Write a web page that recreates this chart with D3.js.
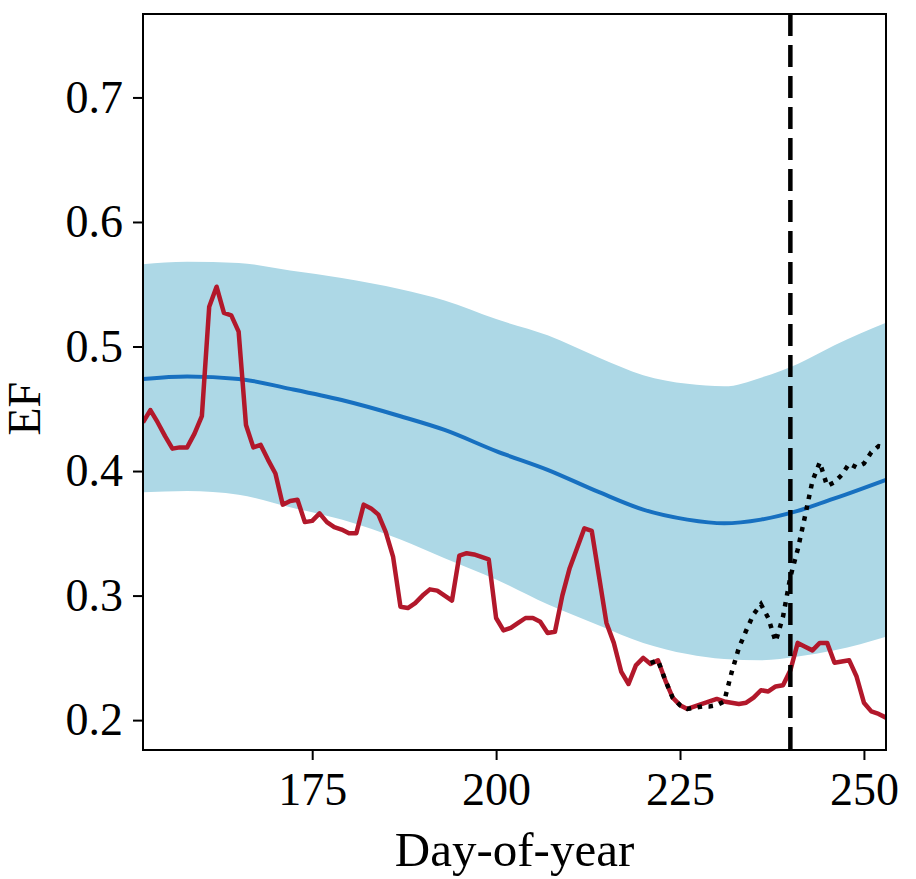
<!DOCTYPE html>
<html>
<head>
<meta charset="utf-8">
<script src="https://cdn.jsdelivr.net/npm/d3@7"></script>
<style>
  body { margin: 0; background: #fff; }
  svg text { font-family: "Liberation Serif", "DejaVu Serif", serif; }
</style>
</head>
<body>
<svg id="chart" width="916" height="879"></svg>
<script>
// observed EF, daily
var obsDays = [152,153,154,155,156,157,158,159,160,161,162,163,164,165,166,167,168,169,170,
  171,172,173,174,175,176,177,178,179,180,181,182,183,184,185,186,187,188,189,190,
  191,192,193,194,195,196,197,198,199,200,201,202,203,204,205,206,207,208,209,210,
  211,212,213,214,215,216,217,218,219,220,221,222,223,224,225,226,227,228,229,230,
  231,232,233,234,235,236,237,238,239,240,241,242,243,244,245,246,247,248,249,250,
  251,252,253];
var obsEF = [0.439,0.449,0.439,0.428,0.418,0.419,0.419,0.430,0.444,0.532,0.548,0.527,0.525,0.512,0.437,0.419,0.421,0.409,0.398,
  0.373,0.376,0.377,0.359,0.360,0.366,0.359,0.355,0.353,0.350,0.350,0.373,0.370,0.365,0.351,0.331,0.291,0.290,0.294,0.300,
  0.305,0.304,0.300,0.296,0.332,0.334,0.333,0.331,0.329,0.282,0.272,0.274,0.278,0.282,0.282,0.279,0.270,0.271,0.300,0.322,
  0.338,0.354,0.352,0.315,0.278,0.262,0.239,0.229,0.244,0.250,0.245,0.248,0.232,0.218,0.212,0.209,0.211,0.213,0.215,0.217,
  0.215,0.214,0.213,0.214,0.218,0.224,0.223,0.227,0.228,0.240,0.262,0.259,0.256,0.262,0.262,0.246,0.247,0.248,0.235,0.214,
  0.207,0.205,0.202];

// alternative run (dotted)
var altDays = [221,222,223,224,225,226,227,228,229,230,231,232,233,234,235,236,237,238,239,240,
  241,242,243,244,245,246,247,248,249,250,251,252,253];
var altEF = [0.246,0.248,0.232,0.218,0.212,0.209,0.210,0.211,0.211,0.212,0.215,0.238,0.258,0.272,0.285,0.293,0.282,0.263,0.283,0.315,
  0.337,0.364,0.392,0.407,0.388,0.391,0.397,0.406,0.403,0.406,0.415,0.420,0.419];

// climatology mean and band
var climDays = [152,158,165,172,179,187,193,200,207,214,220,226,231,236,241,246,253];
var climMean = [0.474,0.476,0.474,0.466,0.457,0.444,0.433,0.416,0.401,0.383,0.369,0.361,0.358,0.361,0.368,0.378,0.393];
var climLow  = [0.383,0.384,0.381,0.371,0.361,0.345,0.330,0.313,0.293,0.276,0.262,0.253,0.249,0.248,0.251,0.256,0.267];
var climHigh = [0.566,0.568,0.567,0.561,0.555,0.546,0.537,0.522,0.509,0.491,0.477,0.470,0.468,0.475,0.486,0.501,0.519];

var markDay = 240;
var xTicks = [175, 200, 225, 250];
var yTicks = [0.2, 0.3, 0.4, 0.5, 0.6, 0.7];

var margin = {left: 143, right: 30, top: 14, bottom: 129};
var width = 916 - margin.left - margin.right;
var height = 879 - margin.top - margin.bottom;

var svg = d3.select('#chart');
var g = svg.append('g').attr('transform', 'translate(' + margin.left + ',' + margin.top + ')');

var x = d3.scaleLinear().domain([152, 253]).range([0, width]);
var y = d3.scaleLinear().domain([0.176, 0.767]).range([height, 0]);

g.append('clipPath').attr('id', 'clip')
  .append('rect').attr('width', width).attr('height', height);

var plot = g.append('g').attr('clip-path', 'url(#clip)');

var band = d3.area()
  .x(function(d, i) { return x(climDays[i]); })
  .y0(function(d, i) { return y(climLow[i]); })
  .y1(function(d, i) { return y(climHigh[i]); })
  .curve(d3.curveMonotoneX);

plot.append('path').datum(climDays)
  .attr('d', band)
  .attr('fill', '#add8e6');

var meanLine = d3.line()
  .x(function(d, i) { return x(climDays[i]); })
  .y(function(d) { return y(d); })
  .curve(d3.curveMonotoneX);

plot.append('path').datum(climMean)
  .attr('d', meanLine)
  .attr('fill', 'none')
  .attr('stroke', '#1770c0')
  .attr('stroke-width', 4);

var obsLine = d3.line()
  .x(function(d, i) { return x(obsDays[i]); })
  .y(function(d) { return y(d); });

plot.append('path').datum(obsEF)
  .attr('d', obsLine)
  .attr('fill', 'none')
  .attr('stroke', '#b2182b')
  .attr('stroke-width', 4.5)
  .attr('stroke-linejoin', 'round');

var altLine = d3.line()
  .x(function(d, i) { return x(altDays[i]); })
  .y(function(d) { return y(d); });

plot.append('path').datum(altEF)
  .attr('d', altLine)
  .attr('fill', 'none')
  .attr('stroke', '#000')
  .attr('stroke-width', 4.5)
  .attr('stroke-dasharray', '4.5,6.5');

plot.append('line')
  .attr('x1', x(markDay)).attr('x2', x(markDay))
  .attr('y1', 0).attr('y2', height)
  .attr('stroke', '#000')
  .attr('stroke-width', 4.5)
  .attr('stroke-dasharray', '22,9');

/* axes */
var xAxis = g.append('g')
  .attr('transform', 'translate(0,' + height + ')')
  .call(d3.axisBottom(x).tickValues(xTicks).tickSize(10).tickPadding(12).tickFormat(d3.format('d')));

var yAxis = g.append('g')
  .call(d3.axisLeft(y).tickValues(yTicks).tickSize(10).tickPadding(10).tickFormat(d3.format('.1f')));

[xAxis, yAxis].forEach(function(a) {
  a.select('.domain').remove();
  a.selectAll('.tick line').attr('stroke', '#000').attr('stroke-width', 2);
  a.selectAll('.tick text').attr('fill', '#000').style('font-size', '46px')
    .style('font-family', '"Liberation Serif", serif');
});

g.append('rect')
  .attr('width', width).attr('height', height)
  .attr('fill', 'none')
  .attr('stroke', '#000')
  .attr('stroke-width', 2);

svg.append('text')
  .attr('x', margin.left + width / 2)
  .attr('y', 866)
  .attr('text-anchor', 'middle')
  .style('font-size', '49px')
  .text('Day-of-year');

svg.append('text')
  .attr('transform', 'translate(40,' + (margin.top + y(0.45)) + ') rotate(-90)')
  .attr('text-anchor', 'middle')
  .style('font-size', '46px')
  .text('EF');
</script>
</body>
</html>
